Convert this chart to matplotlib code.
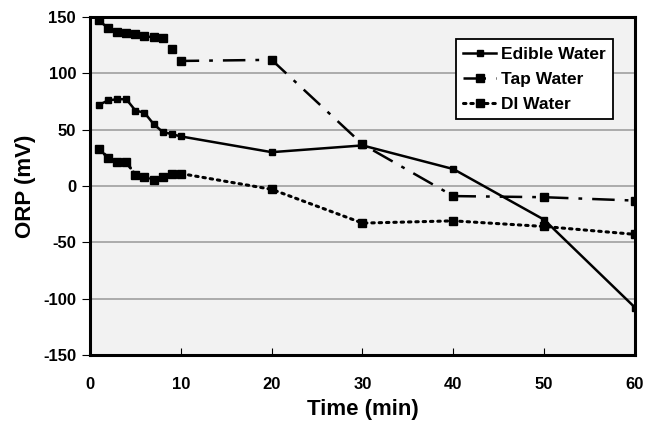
import matplotlib.pyplot as plt
from matplotlib.ticker import MultipleLocator

plt.rcParams['font.family'] = ['Liberation Sans', 'DejaVu Sans']
plt.rcParams['font.weight'] = 'bold'
plt.rcParams['axes.unicode_minus'] = False

time_min = [1, 2, 3, 4, 5, 6, 7, 8, 9, 10, 20, 30, 40, 50, 60]
edible = [72, 76, 77, 77, 67, 65, 55, 48, 46, 44, 30, 36, 15, -30, -108]
tap = [147, 140, 137, 136, 135, 133, 132, 131, 122, 111, 112, 37, -9, -10, -13]
di = [33, 25, 21, 21, 10, 8, 5, 8, 11, 11, -3, -33, -31, -36, -43]

fig = plt.figure(figsize=(6.45, 4.26), dpi=100)
ax = fig.add_axes([0.1395, 0.167, 0.845, 0.793])
ax.set_facecolor('#f2f2f2')

ax.plot(time_min, edible, color='black', lw=1.8, ls='-',
        marker='s', ms=5, label='Edible Water')
ax.plot(time_min, tap, color='black', lw=1.8, ls=(0, (9, 4, 1.5, 4)),
        marker='s', ms=6, label='Tap Water')
ax.plot(time_min, di, color='black', lw=2.2, ls=(0, (0.8, 1.6)),
        dash_capstyle='round', marker='s', ms=6, label='DI Water')

ax.set_xlim(0, 60)
ax.set_ylim(-150, 150)
ax.xaxis.set_major_locator(MultipleLocator(10))
ax.yaxis.set_major_locator(MultipleLocator(50))
ax.yaxis.grid(True, color='#a0a0a0', lw=1.2)
ax.set_axisbelow(True)

for s in ax.spines.values():
    s.set_linewidth(2.2)
    s.set_color('black')

ax.tick_params(axis='x', direction='in', length=5, pad=16, labelsize=12)
ax.tick_params(axis='y', direction='out', length=6, pad=4, labelsize=12)

ax.set_xlabel('Time (min)', fontsize=16, fontweight='bold', labelpad=5)
ax.set_ylabel('ORP (mV)', fontsize=16, fontweight='bold', labelpad=5)

leg = ax.legend(loc='upper right', bbox_to_anchor=(0.976, 0.96),
                fontsize=12.5, frameon=True, fancybox=False,
                edgecolor='black', framealpha=1, handlelength=1.9,
                handletextpad=0.25, borderpad=0.45, labelspacing=0.55)
leg.get_frame().set_linewidth(1.3)

plt.savefig('out.png', dpi=100)
